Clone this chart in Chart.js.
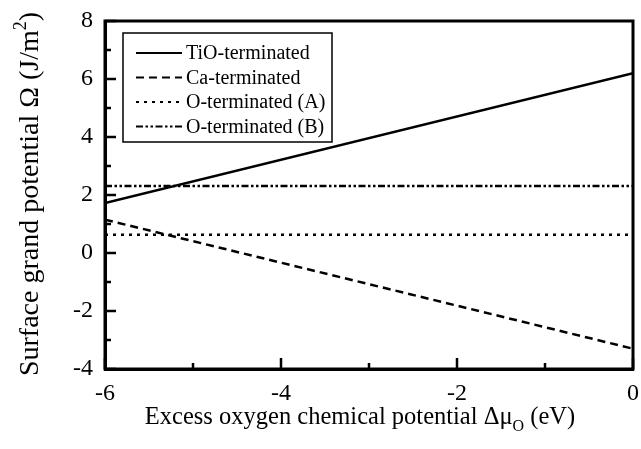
<!DOCTYPE html>
<html>
<head>
<meta charset="utf-8">
<script src="https://cdn.jsdelivr.net/npm/chart.js@4/dist/chart.umd.min.js"></script>
<style>
  html, body { margin: 0; padding: 0; background: #fff; }
  #wrap { width: 641px; height: 449px; }
</style>
</head>
<body>
<div id="wrap"><canvas id="c" width="641" height="449"></canvas></div>
<script>
// ---- data ----
const xValues = [-6, 0];
const tioTerminated = [1.72, 6.2];
const caTerminated = [1.15, -3.3];
const oTerminatedA = [0.63, 0.63];
const oTerminatedB = [2.31, 2.31];
const seriesLabels = ['TiO-terminated', 'Ca-terminated', 'O-terminated (A)', 'O-terminated (B)'];
const xTicks = [-6, -4, -2, 0];
const yTicks = [-4, -2, 0, 2, 4, 6, 8];
const xMinorTicks = [-5, -3, -1];
const yMinorTicks = [-3, -1, 1, 3, 5, 7];
const yTitleParts = [['Surface grand potential \u03A9 (J/m', 0], ['2', 1], [')', 0]];
const xTitleParts = [['Excess oxygen chemical potential \u0394\u03BC', 0], ['O', -1], [' (eV)', 0]];

const FONT = '"Liberation Serif", "Times New Roman", serif';

function pts(ys) { return xValues.map((x, i) => ({ x: x, y: ys[i] })); }

const dashes = [[], [8, 5], [3, 5], [7, 2.5, 2.5, 2.5, 2.5, 2.5]];
const allSeries = [tioTerminated, caTerminated, oTerminatedA, oTerminatedB];

const datasets = allSeries.map((s, i) => ({
  label: seriesLabels[i],
  data: pts(s),
  borderColor: '#000',
  backgroundColor: '#000',
  borderWidth: 2.5,
  borderDash: dashes[i],
  pointRadius: 0,
  fill: false,
  tension: 0
}));

function drawRich(ctx, parts, x, y, size, align) {
  const big = size + 'px ' + FONT;
  const small = Math.round(size * 0.66) + 'px ' + FONT;
  let total = 0;
  parts.forEach(p => { ctx.font = p[1] ? small : big; total += ctx.measureText(p[0]).width; });
  let cx = align === 'center' ? x - total / 2 : x;
  ctx.textAlign = 'left';
  ctx.textBaseline = 'alphabetic';
  parts.forEach(p => {
    ctx.font = p[1] ? small : big;
    const dy = p[1] === 1 ? -size * 0.42 : (p[1] === -1 ? size * 0.3 : 0);
    ctx.fillText(p[0], cx, y + dy);
    cx += ctx.measureText(p[0]).width;
  });
}

const decor = {
  id: 'decor',
  afterDraw(chart) {
    const ctx = chart.ctx;
    const a = chart.chartArea;
    const xs = chart.scales.x, ys = chart.scales.y;
    ctx.save();
    ctx.strokeStyle = '#000';
    ctx.fillStyle = '#000';
    ctx.lineWidth = 3;
    // frame
    ctx.strokeRect(a.left, a.top, a.right - a.left, a.bottom - a.top);
    // inward ticks
    ctx.lineWidth = 2.5;
    ctx.beginPath();
    xTicks.forEach(v => { const p = xs.getPixelForValue(v); ctx.moveTo(p, a.bottom); ctx.lineTo(p, a.bottom - 11); });
    xMinorTicks.forEach(v => { const p = xs.getPixelForValue(v); ctx.moveTo(p, a.bottom); ctx.lineTo(p, a.bottom - 6); });
    yTicks.forEach(v => { const p = ys.getPixelForValue(v); ctx.moveTo(a.left, p); ctx.lineTo(a.left + 11, p); });
    yMinorTicks.forEach(v => { const p = ys.getPixelForValue(v); ctx.moveTo(a.left, p); ctx.lineTo(a.left + 6, p); });
    ctx.stroke();

    // legend
    const lx = 123, ly = 33, lw = 209, lh = 109;
    ctx.fillStyle = '#fff';
    ctx.fillRect(lx, ly, lw, lh);
    ctx.lineWidth = 1.5;
    ctx.strokeRect(lx, ly, lw, lh);
    chart.data.datasets.forEach((d, i) => {
      const yy = 53 + i * 24.5;
      ctx.beginPath();
      ctx.setLineDash(d.borderDash || []);
      ctx.lineWidth = 2;
      ctx.moveTo(136, yy);
      ctx.lineTo(182, yy);
      ctx.stroke();
      ctx.setLineDash([]);
      ctx.fillStyle = '#000';
      ctx.font = '20px ' + FONT;
      ctx.textAlign = 'left';
      ctx.textBaseline = 'middle';
      ctx.fillText(d.label, 186, yy + 1);
    });

    // axis titles
    ctx.fillStyle = '#000';
    drawRich(ctx, xTitleParts, 360, 424, 24.5, 'center');
    ctx.translate(38, 194);
    ctx.rotate(-Math.PI / 2);
    drawRich(ctx, yTitleParts, 0, 0, 28, 'center');
    ctx.restore();
  }
};

new Chart(document.getElementById('c'), {
  type: 'line',
  data: { datasets: datasets },
  options: {
    responsive: false,
    animation: false,
    devicePixelRatio: 1,
    layout: { padding: { left: 0, right: 8, top: 21, bottom: 0 } },
    plugins: { legend: { display: false }, tooltip: { enabled: false } },
    scales: {
      x: {
        type: 'linear',
        min: -6, max: 0,
        afterFit(s) { s.height = 80; s.paddingLeft = 0; s.paddingRight = 0; },
        afterBuildTicks(s) { s.ticks = xTicks.map(v => ({ value: v })); },
        ticks: { color: '#000', font: { family: FONT, size: 24 }, padding: 10, maxRotation: 0 },
        grid: { drawOnChartArea: false, drawTicks: false },
        border: { display: true, color: '#000', width: 3 },
        title: { display: false }
      },
      y: {
        type: 'linear',
        min: -4, max: 8,
        afterFit(s) { s.width = 105; s.paddingTop = 0; s.paddingBottom = 0; },
        afterBuildTicks(s) { s.ticks = yTicks.map(v => ({ value: v })); },
        ticks: { color: '#000', font: { family: FONT, size: 24 }, padding: 12 },
        grid: { drawOnChartArea: false, drawTicks: false },
        border: { display: true, color: '#000', width: 3 },
        title: { display: false }
      }
    }
  },
  plugins: [decor]
});
</script>
</body>
</html>
